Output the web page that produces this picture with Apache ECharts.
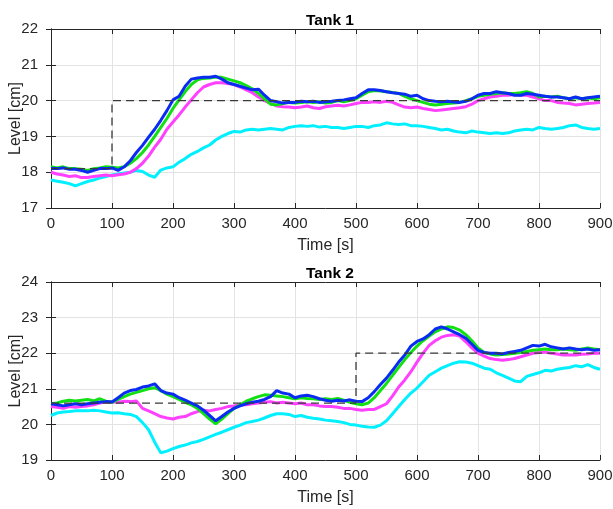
<!DOCTYPE html>
<html>
<head>
<meta charset="utf-8">
<script src="https://cdn.jsdelivr.net/npm/echarts@6/dist/echarts.min.js"></script>
<style>html,body{margin:0;padding:0;background:#fff}#c{width:613px;height:509px}</style>
</head>
<body>
<div id="c"></div>
<script>
// sample times (s), every 10 s
const T = Array.from({length: 91}, (_, i) => i * 10);

// Tank 1 levels [cm]
const G1 = [18.15,18.12,18.15,18.1,18.1,18.08,18.05,18.1,18.12,18.15,18.14,18.12,18.15,18.25,18.38,18.55,18.76,19.0,19.25,19.5,19.78,20.02,20.25,20.45,20.58,20.62,20.63,20.66,20.65,20.6,20.55,20.5,20.42,20.33,20.2,20.05,19.9,19.88,19.92,19.95,19.93,19.95,19.97,19.95,19.97,19.93,19.95,20.0,19.97,20.0,20.05,20.15,20.25,20.28,20.27,20.25,20.23,20.2,20.12,20.05,20.0,19.95,19.9,19.88,19.9,19.92,19.93,19.95,20.0,20.05,20.12,20.15,20.18,20.2,20.22,20.2,20.2,20.22,20.25,20.2,20.1,20.12,20.1,20.12,20.08,20.05,20.08,20.05,20.07,20.05,20.08];
const B1 = [18.1,18.1,18.12,18.08,18.08,18.05,18.0,18.05,18.1,18.1,18.12,18.05,18.15,18.32,18.55,18.75,18.98,19.2,19.45,19.72,20.02,20.12,20.4,20.6,20.63,20.65,20.65,20.68,20.6,20.5,20.45,20.4,20.35,20.3,20.32,20.15,20.0,19.97,19.93,19.95,19.95,19.98,19.97,19.98,19.95,19.97,19.98,20.0,20.02,20.05,20.08,20.2,20.3,20.3,20.28,20.25,20.22,20.2,20.18,20.12,20.15,20.05,20.0,19.98,19.97,19.98,19.96,19.95,19.98,20.05,20.15,20.2,20.2,20.25,20.22,20.2,20.15,20.15,20.2,20.18,20.15,20.12,20.1,20.1,20.08,20.05,20.1,20.05,20.08,20.1,20.12];
const M1 = [18.0,17.95,17.92,17.88,17.9,17.85,17.85,17.88,17.9,17.92,17.9,17.93,17.95,18.0,18.1,18.25,18.45,18.7,18.92,19.2,19.4,19.6,19.82,20.02,20.22,20.38,20.45,20.5,20.5,20.48,20.45,20.38,20.3,20.22,20.1,20.0,19.92,19.85,19.83,19.82,19.8,19.82,19.85,19.8,19.78,19.83,19.85,19.87,19.85,19.88,19.92,19.95,19.95,19.97,19.95,19.98,19.95,19.88,19.82,19.8,19.82,19.78,19.75,19.72,19.74,19.76,19.78,19.8,19.83,19.9,20.0,20.05,20.1,20.12,20.15,20.15,20.17,20.15,20.15,20.1,20.05,20.0,20.0,19.95,19.93,19.92,19.88,19.9,19.92,19.93,19.95];
const C1 = [17.78,17.75,17.72,17.68,17.62,17.68,17.74,17.78,17.84,17.88,17.92,17.95,17.98,18.0,18.05,18.02,17.92,17.86,18.06,18.12,18.15,18.28,18.38,18.5,18.58,18.68,18.76,18.9,19.0,19.08,19.14,19.12,19.18,19.2,19.18,19.2,19.22,19.2,19.18,19.25,19.28,19.3,19.28,19.3,19.26,19.28,19.25,19.25,19.22,19.25,19.28,19.28,19.25,19.3,19.32,19.38,19.35,19.33,19.35,19.3,19.3,19.28,19.25,19.22,19.18,19.2,19.15,19.12,19.1,19.15,19.12,19.1,19.08,19.1,19.08,19.1,19.15,19.18,19.2,19.18,19.25,19.22,19.2,19.22,19.25,19.3,19.32,19.25,19.22,19.2,19.22];

// Tank 2 levels [cm]
const G2 = [20.58,20.6,20.65,20.68,20.66,20.68,20.7,20.66,20.72,20.65,20.62,20.7,20.78,20.85,20.9,20.95,21.0,21.03,20.95,20.85,20.78,20.7,20.62,20.55,20.45,20.3,20.15,20.02,20.15,20.3,20.45,20.55,20.65,20.72,20.78,20.83,20.82,20.8,20.78,20.75,20.72,20.75,20.73,20.72,20.7,20.72,20.7,20.73,20.68,20.62,20.58,20.55,20.6,20.75,20.95,21.15,21.38,21.6,21.82,22.02,22.2,22.35,22.48,22.6,22.68,22.74,22.72,22.65,22.52,22.35,22.15,22.02,21.98,21.95,21.96,21.98,22.0,22.02,22.05,22.08,22.1,22.12,22.1,22.1,22.12,22.1,22.08,22.12,22.15,22.12,22.1];
const B2 = [20.58,20.55,20.52,20.55,20.58,20.55,20.58,20.6,20.62,20.64,20.63,20.75,20.88,20.95,20.98,21.05,21.08,21.14,20.95,20.88,20.85,20.75,20.68,20.6,20.52,20.4,20.25,20.1,20.22,20.35,20.45,20.52,20.58,20.62,20.65,20.7,20.78,20.95,20.88,20.85,20.75,20.8,20.82,20.78,20.72,20.68,20.65,20.68,20.66,20.69,20.65,20.64,20.75,20.92,21.12,21.3,21.52,21.75,21.95,22.2,22.33,22.4,22.52,22.68,22.74,22.68,22.6,22.52,22.42,22.25,22.08,22.02,22.0,22.0,21.98,22.02,22.05,22.08,22.15,22.22,22.2,22.25,22.18,22.15,22.12,22.15,22.12,22.1,22.12,22.08,22.1];
const M2 = [20.5,20.48,20.45,20.5,20.48,20.5,20.52,20.55,20.6,20.64,20.63,20.62,20.65,20.64,20.66,20.45,20.38,20.3,20.22,20.18,20.15,20.2,20.22,20.3,20.36,20.4,20.38,20.42,20.45,20.5,20.52,20.55,20.55,20.58,20.6,20.62,20.64,20.6,20.62,20.6,20.58,20.6,20.55,20.55,20.52,20.5,20.5,20.48,20.45,20.45,20.42,20.4,20.42,20.42,20.5,20.58,20.8,21.05,21.25,21.48,21.75,22.0,22.22,22.35,22.45,22.5,22.52,22.48,22.32,22.15,22.0,21.92,21.85,21.82,21.8,21.82,21.85,21.9,21.95,22.0,22.02,22.03,22.0,21.98,21.95,21.95,21.95,21.97,21.98,22.0,22.0];
const C2 = [20.25,20.32,20.35,20.36,20.38,20.38,20.38,20.4,20.38,20.35,20.32,20.33,20.3,20.28,20.22,20.05,19.85,19.5,19.2,19.25,19.32,19.38,19.42,19.48,19.52,19.58,19.65,19.72,19.78,19.85,19.92,19.98,20.05,20.08,20.12,20.18,20.25,20.3,20.3,20.28,20.22,20.25,20.2,20.17,20.15,20.12,20.1,20.08,20.05,20.0,19.98,19.95,19.93,19.92,19.98,20.1,20.3,20.5,20.7,20.88,21.02,21.2,21.38,21.48,21.58,21.65,21.72,21.76,21.75,21.72,21.65,21.58,21.55,21.45,21.38,21.3,21.22,21.2,21.35,21.4,21.45,21.52,21.5,21.55,21.58,21.6,21.65,21.62,21.68,21.6,21.55];

// setpoints: [time, level] breakpoints
const SP1 = [[0,18.1],[100,18.1],[100,20],[900,20]];
const SP2 = [[0,20.6],[500,20.6],[500,22],[900,22]];

const X_TICKS = {min: 0, max: 900, interval: 100};
const Y1 = {min: 17, max: 22, interval: 1};
const Y2 = {min: 19, max: 24, interval: 1};

const pair = arr => T.map((t, i) => [t, arr[i]]);
const TXT = '#262626';
const FONT = 'Liberation Sans';
const gridLine = {show: true, lineStyle: {color: '#e3e3e3', width: 1}};
const axLine = {show: true, lineStyle: {color: TXT, width: 1}};
const tick = {show: true, inside: true, length: 5, lineStyle: {color: TXT, width: 1}};
const lbl = {color: TXT, fontFamily: FONT, fontSize: 15};

function xAxes(gi) {
  return [
    {type: 'value', gridIndex: gi, position: 'bottom', ...X_TICKS, axisLine: axLine, axisTick: tick,
     splitLine: gridLine, axisLabel: {...lbl, margin: 8},
     name: 'Time [s]', nameLocation: 'middle', nameGap: 30, nameMoveOverlap: false,
     nameTextStyle: {color: TXT, fontFamily: FONT, fontSize: 16}},
    {type: 'value', gridIndex: gi, position: 'top', ...X_TICKS, axisLine: axLine, axisTick: tick,
     splitLine: {show: false}, axisLabel: {show: false}}
  ];
}
function yAxes(gi, r) {
  return [
    {type: 'value', gridIndex: gi, position: 'left', ...r, axisLine: axLine, axisTick: tick,
     splitLine: gridLine, axisLabel: {...lbl, margin: 13},
     name: 'Level [cm]', nameLocation: 'middle', nameGap: 27, nameMoveOverlap: false,
     nameTextStyle: {color: TXT, fontFamily: FONT, fontSize: 16}},
    {type: 'value', gridIndex: gi, position: 'right', ...r, axisLine: axLine, axisTick: tick,
     splitLine: {show: false}, axisLabel: {show: false}}
  ];
}
function line(data, color, xi, yi, z) {
  return {type: 'line', data, xAxisIndex: xi, yAxisIndex: yi, showSymbol: false, symbol: 'none',
    z, lineStyle: {color, width: 3}, emphasis: {disabled: true}};
}
function sp(data, xi, yi) {
  return {type: 'line', data, xAxisIndex: xi, yAxisIndex: yi, showSymbol: false, symbol: 'none',
    z: 10, lineStyle: {color: '#3a3a3a', width: 1.3, type: [8, 5]}, emphasis: {disabled: true}};
}

const COL = {g: '#12e012', b: '#0a2cf2', m: '#ff40ff', c: '#00f0ff'};

const chart = echarts.init(document.getElementById('c'), null, {renderer: 'canvas'});
chart.setOption({
  animation: false,
  backgroundColor: '#fff',
  title: [
    {text: 'Tank 1', left: 325, top: 8, textAlign: 'center',
     textStyle: {fontFamily: FONT, fontSize: 15.5, fontWeight: 'bold', color: '#000'}},
    {text: 'Tank 2', left: 325, top: 261, textAlign: 'center',
     textStyle: {fontFamily: FONT, fontSize: 15.5, fontWeight: 'bold', color: '#000'}}
  ],
  grid: [
    {left: 51, top: 29, width: 549, height: 179, containLabel: false, outerBoundsMode: 'none'},
    {left: 51, top: 282, width: 549, height: 178, containLabel: false, outerBoundsMode: 'none'}
  ],
  xAxis: [...xAxes(0), ...xAxes(1)],
  yAxis: [...yAxes(0, Y1), ...yAxes(1, Y2)],
  series: [
    line(pair(C1), COL.c, 0, 0, 2),
    line(pair(M1), COL.m, 0, 0, 3),
    line(pair(G1), COL.g, 0, 0, 4),
    line(pair(B1), COL.b, 0, 0, 5),
    sp(SP1, 0, 0),
    line(pair(C2), COL.c, 2, 2, 2),
    line(pair(M2), COL.m, 2, 2, 3),
    line(pair(G2), COL.g, 2, 2, 4),
    line(pair(B2), COL.b, 2, 2, 5),
    sp(SP2, 2, 2)
  ]
});
</script>
</body>
</html>
